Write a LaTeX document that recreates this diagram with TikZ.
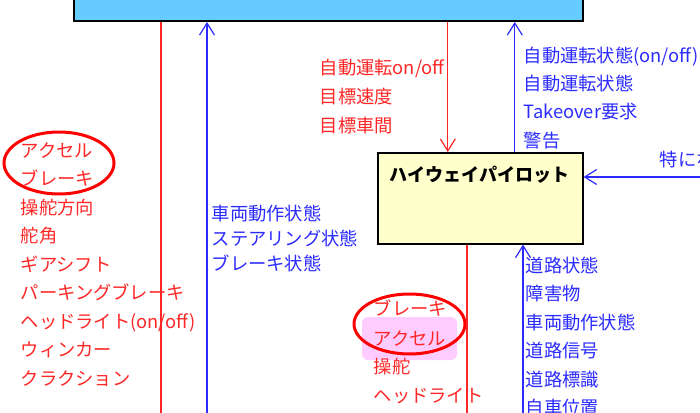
\documentclass[tikz,border=0pt]{standalone}
\usepackage{fontspec}
\setmainfont{Noto Sans CJK JP}
\usetikzlibrary{arrows.meta,shapes.geometric}

\definecolor{sigred}{HTML}{FF2626}
\definecolor{sigblue}{HTML}{2B2BFF}
\definecolor{vehfill}{HTML}{66CCFF}
\definecolor{hwpfill}{HTML}{FFFFCC}
\definecolor{markpink}{HTML}{FFCCFF}

\begin{document}
\begin{tikzpicture}[x=1pt, y=-1pt,
  unit/.style={draw=black, line width=1.6pt, inner sep=0pt},
  sig/.style={anchor=west, inner sep=0pt, text height=1.05em, text depth=0pt,
    font=\fontsize{18.3}{18.3}\selectfont},
  cmd/.style={sig, text=sigred},
  sts/.style={sig, text=sigblue},
  redline/.style={draw=sigred, line width=1.2pt},
  blueline/.style={draw=sigblue, line width=1.2pt},
  >={Straight Barb[length=12pt, width=15pt]},
  focusring/.style={ellipse, draw=red, line width=3pt, inner sep=0pt}]
  \useasboundingbox (0,0) rectangle (700,412);
  \clip (0,0) rectangle (700,412);

  % Nodes
  \node[unit, fill=vehfill, anchor=south west, minimum width=509pt, minimum height=60pt] (vehicle) at (73,22) {};
  \node[unit, fill=hwpfill, anchor=north west, minimum width=205pt, minimum height=91pt] (hwp) at (377,152) {};
  \node[font=\fontsize{18}{18}\selectfont\bfseries, inner sep=0pt, text height=1.25em, text depth=0pt] (hwpName) at (479.5,175) {ハイウェイパイロット};

  \node[cmd] (accelL) at (20.5,152) {アクセル};
  \node[cmd] (brakeL) at (20.5,180.5) {ブレーキ};
  \node[cmd] (steerDir) at (20.5,209) {操舵方向};
  \node[cmd] (steerAng) at (20.5,237.5) {舵角};
  \node[cmd] (gear) at (20.5,266) {ギアシフト};
  \node[cmd] (parking) at (20.5,294.5) {パーキングブレーキ};
  \node[cmd] (headL) at (20.5,323) {ヘッドライト(on/off)};
  \node[cmd] (winker) at (20.5,351.5) {ウィンカー};
  \node[cmd] (horn) at (20.5,380) {クラクション};

  \node[sts] (motionL) at (211.5,215) {車両動作状態};
  \node[sts] (steerSts) at (211.5,240) {ステアリング状態};
  \node[sts] (brakeSts) at (211.5,265) {ブレーキ状態};

  \node[cmd] (autoOn) at (319.5,69) {自動運転on/off};
  \node[cmd] (tgtSpeed) at (319.5,98) {目標速度};
  \node[cmd] (tgtGap) at (319.5,127) {目標車間};

  \node[sts] (autoStsOn) at (523.5,57) {自動運転状態(on/off)};
  \node[sts] (autoSts) at (523.5,85) {自動運転状態};
  \node[sts] (takeover) at (523.5,113) {Takeover要求};
  \node[sts] (warn) at (523.5,142) {警告};

  \node[sts] (extNone) at (659.5,161) {特にな};

  \node[inner sep=0pt, fill=markpink, rounded corners=6pt, minimum width=95pt, minimum height=43pt] (accelMark) at (409.5,338.5) {};
  \node[cmd] (brakeR) at (373.5,310) {ブレーキ};
  \node[cmd] (accelR) at (373.5,340) {アクセル};
  \node[cmd] (steerR) at (373.5,368) {操舵};
  \node[cmd] (headR) at (373.5,397) {ヘッドライト};

  \node[sts] (road) at (525.5,267) {道路状態};
  \node[sts] (obstacle) at (525.5,295.5) {障害物};
  \node[sts] (motionR) at (525.5,324) {車両動作状態};
  \node[sts] (signal) at (525.5,352.5) {道路信号};
  \node[sts] (sign) at (525.5,381) {道路標識};
  \node[sts] (egoPos) at (525.5,409.5) {自車位置};

  \node[focusring, minimum width=110pt, minimum height=62pt] (ringL) at (59,163) {};
  \node[focusring, minimum width=111pt, minimum height=60pt] (ringR) at (409.5,324) {};

  \coordinate (actOutL) at (161,430);
  \coordinate (stsInL) at (207,430);
  \coordinate (extIn) at (720,177);
  \coordinate (actOutR) at (467,430);
  \coordinate (envIn) at (523,430);

  % Edges
  \draw[redline] (actOutL |- vehicle.south) -- (actOutL);
  \draw[blueline, ->] (stsInL) -- (stsInL |- vehicle.south);
  \draw[redline, ->] ([xshift=-32.5pt]hwp.north |- vehicle.south) -- ([xshift=-32.5pt]hwp.north);
  \draw[blueline, ->] ([xshift=34.5pt]hwp.north) -- ([xshift=34.5pt]hwp.north |- vehicle.south);
  \draw[blueline, ->] (extIn) -- (extIn -| hwp.east);
  \draw[redline] (actOutR |- hwp.south) -- (actOutR);
  \draw[blueline, ->] (envIn) -- (envIn |- hwp.south);
\end{tikzpicture}
\end{document}
